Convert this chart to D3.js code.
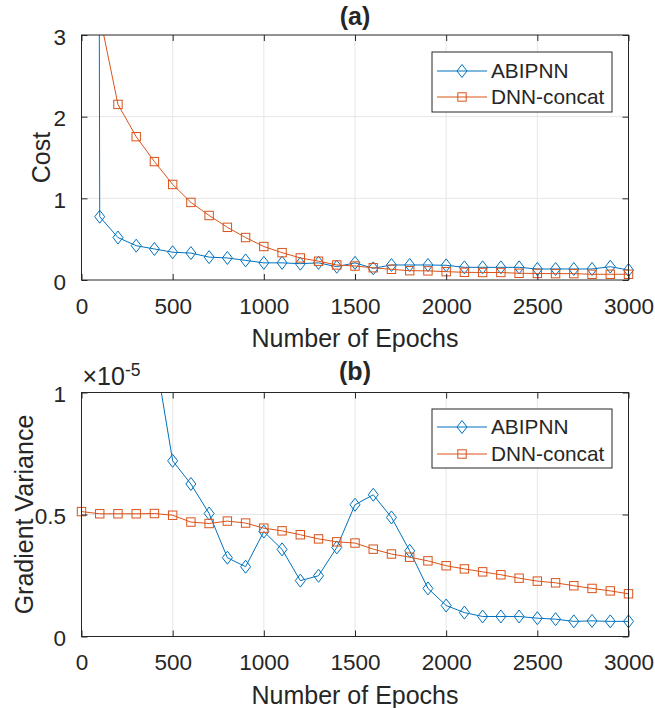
<!DOCTYPE html>
<html>
<head>
<meta charset="utf-8">
<script src="https://cdn.jsdelivr.net/npm/d3@7"></script>
<style>
  html, body { margin: 0; padding: 0; background: #fff; }
  svg { display: block; }
  text { font-family: "Liberation Sans", Arial, Helvetica, sans-serif; fill: #262626; }
</style>
</head>
<body>
<svg id="chart" width="655" height="708"></svg>
<script>
// ---- Data ----
const epochs = [0,100,200,300,400,500,600,700,800,900,1000,1100,1200,1300,1400,1500,
                1600,1700,1800,1900,2000,2100,2200,2300,2400,2500,2600,2700,2800,2900,3000];

const seriesNames = ["ABIPNN", "DNN-concat"];

// (a) Cost
const costABIPNN = [100, 0.775, 0.52, 0.42, 0.38, 0.34, 0.33, 0.28, 0.27, 0.24, 0.21, 0.21, 0.20, 0.21,
                    0.163, 0.21, 0.143, 0.184, 0.184, 0.184, 0.18, 0.155, 0.155, 0.155, 0.155, 0.135,
                    0.135, 0.135, 0.135, 0.163, 0.122];
const costDNN = [5.0, 3.24, 2.15, 1.755, 1.45, 1.17, 0.95, 0.79, 0.645, 0.52, 0.41, 0.335, 0.27, 0.23,
                 0.184, 0.171, 0.15, 0.131, 0.114, 0.112, 0.102, 0.094, 0.092, 0.092, 0.082, 0.08,
                 0.078, 0.078, 0.07, 0.07, 0.07];

// (b) Gradient variance (units of 1e-5)
const gvABIPNN = [3.0, 2.5, 2.0, 1.6, 1.17, 0.72, 0.625, 0.504, 0.323, 0.286, 0.43, 0.357, 0.229, 0.249,
                  0.365, 0.54, 0.581, 0.488, 0.351, 0.197, 0.127, 0.098, 0.082, 0.082, 0.082, 0.075,
                  0.071, 0.062, 0.064, 0.062, 0.062];
const gvDNN = [0.512, 0.503, 0.503, 0.503, 0.504, 0.497, 0.469, 0.463, 0.473, 0.465, 0.444, 0.433,
               0.417, 0.40, 0.388, 0.383, 0.358, 0.338, 0.325, 0.31, 0.29, 0.277, 0.265, 0.253,
               0.239, 0.227, 0.22, 0.208, 0.197, 0.187, 0.175];

const xTicks = [0, 500, 1000, 1500, 2000, 2500, 3000];
const yTicksA = [0, 1, 2, 3];
const yTicksB = [0, 0.5, 1];

// ---- Styling ----
const BLUE = "#0072BD", ORANGE = "#D95319", AXIS = "#262626", GRID = "#e6e6e6";
const svg = d3.select("#chart");

function panel(opts) {
  const {left, right, top, bottom, yDomain, yTicks, series, title, titleY, ylabel, ylabelX, legendBox, expLabel, id} = opts;
  const x = d3.scaleLinear().domain([0, 3000]).range([left, right]);
  const y = d3.scaleLinear().domain(yDomain).range([bottom, top]);
  const g = svg.append("g");

  // grid
  g.selectAll(".gx").data(xTicks.slice(1, -1)).join("line")
    .attr("x1", d => x(d)).attr("x2", d => x(d)).attr("y1", top).attr("y2", bottom)
    .attr("stroke", GRID).attr("stroke-width", 1);
  g.selectAll(".gy").data(yTicks.slice(1, -1)).join("line")
    .attr("y1", d => y(d)).attr("y2", d => y(d)).attr("x1", left).attr("x2", right)
    .attr("stroke", GRID).attr("stroke-width", 1);

  // clip
  svg.append("clipPath").attr("id", "clip" + id).append("rect")
    .attr("x", left).attr("y", top).attr("width", right - left).attr("height", bottom - top);

  const line = d3.line().x((d, i) => x(epochs[i])).y(d => y(d));
  series.forEach(s => {
    g.append("path").datum(s.values).attr("d", line)
      .attr("clip-path", `url(#clip${id})`)
      .attr("fill", "none").attr("stroke", s.color).attr("stroke-width", 1);
    const pts = s.values.map((v, i) => ({x: epochs[i], v})).filter(p => p.v >= yDomain[0] && p.v <= yDomain[1]);
    drawMarkers(g, pts.map(p => [x(p.x), y(p.v)]), s.marker, s.color);
  });

  // axes box
  g.append("rect").attr("x", left).attr("y", top).attr("width", right - left).attr("height", bottom - top)
    .attr("fill", "none").attr("stroke", AXIS).attr("stroke-width", 1);

  // axes with d3 (inner ticks)
  const tl = 6;
  const xAxisB = d3.axisBottom(x).tickValues(xTicks).tickSize(-tl).tickPadding(tl + 12).tickFormat(d3.format("d"));
  const xAxisT = d3.axisTop(x).tickValues(xTicks).tickSize(-tl).tickFormat("");
  const yAxisL = d3.axisLeft(y).tickValues(yTicks).tickSize(-tl).tickPadding(tl + 9.5).tickFormat(d => d3.format("")(d));
  const yAxisR = d3.axisRight(y).tickValues(yTicks).tickSize(-tl).tickFormat("");
  [[xAxisB, `translate(0,${bottom})`], [xAxisT, `translate(0,${top})`],
   [yAxisL, `translate(${left},0)`], [yAxisR, `translate(${right},0)`]].forEach(([ax, tr], k) => {
    const a = g.append("g").attr("transform", tr).call(ax);
    a.select(".domain").remove();
    a.selectAll(".tick line").attr("stroke", AXIS).attr("stroke-width", 1);
    a.selectAll(".tick text").attr("fill", AXIS).style("font-size", "22.5px")
      .style("font-family", '"Liberation Sans", Arial, sans-serif');
    if (k === 2) a.selectAll(".tick text").attr("dy", "0.4em");
  });

  // x label
  g.append("text").attr("x", (left + right) / 2).attr("y", bottom + 67).attr("text-anchor", "middle")
    .style("font-size", "25px").text("Number of Epochs");
  // y label
  g.append("text").attr("transform", `translate(${ylabelX},${(top + bottom) / 2}) rotate(-90)`)
    .attr("text-anchor", "middle").style("font-size", "25px").text(ylabel);
  // title
  g.append("text").attr("x", (left + right) / 2).attr("y", titleY).attr("text-anchor", "middle")
    .style("font-size", "25px").style("font-weight", "bold").text(title);

  if (expLabel) {
    const t = g.append("text").attr("x", left + 1).attr("y", top - 7.5).style("font-size", "25px");
    t.append("tspan").text("×10");
    t.append("tspan").attr("dy", "-9").style("font-size", "17.5px").text("-5");
  }

  // legend
  const lb = legendBox;
  const lg = g.append("g");
  lg.append("rect").attr("x", lb.x).attr("y", lb.y).attr("width", lb.w).attr("height", lb.h)
    .attr("fill", "#fff").attr("stroke", AXIS).attr("stroke-width", 1);
  series.forEach((s, i) => {
    const yy = lb.y + lb.rows[i];
    lg.append("line").attr("x1", lb.x + 5).attr("x2", lb.x + 55).attr("y1", yy).attr("y2", yy)
      .attr("stroke", s.color).attr("stroke-width", 1);
    drawMarkers(lg, [[lb.x + 30, yy]], s.marker, s.color);
    lg.append("text").attr("x", lb.x + 59).attr("y", yy).attr("dy", "0.36em")
      .style("font-size", "20.8px").text(s.name);
  });
}

function drawMarkers(g, pts, type, color) {
  if (type === "diamond") {
    g.selectAll(null).data(pts).join("path")
      .attr("d", d => `M${d[0]},${d[1] - 6.5}L${d[0] + 5},${d[1]}L${d[0]},${d[1] + 6.5}L${d[0] - 5},${d[1]}Z`)
      .attr("fill", "none").attr("stroke", color).attr("stroke-width", 1);
  } else {
    g.selectAll(null).data(pts).join("rect")
      .attr("x", d => d[0] - 4.2).attr("y", d => d[1] - 4.2).attr("width", 8.4).attr("height", 8.4)
      .attr("fill", "none").attr("stroke", color).attr("stroke-width", 1);
  }
}

panel({
  id: "a", left: 81.5, right: 628.5, top: 35, bottom: 280,
  yDomain: [0, 3], yTicks: yTicksA,
  series: [
    {name: seriesNames[0], values: costABIPNN, color: BLUE, marker: "diamond"},
    {name: seriesNames[1], values: costDNN, color: ORANGE, marker: "square"}
  ],
  title: "(a)", titleY: 25, ylabel: "Cost", ylabelX: 50,
  legendBox: {x: 432, y: 52, w: 180, h: 60, rows: [19, 45]}
});

panel({
  id: "b", left: 81.5, right: 628.5, top: 392.5, bottom: 636.5,
  yDomain: [0, 1], yTicks: yTicksB,
  series: [
    {name: seriesNames[0], values: gvABIPNN, color: BLUE, marker: "diamond"},
    {name: seriesNames[1], values: gvDNN, color: ORANGE, marker: "square"}
  ],
  title: "(b)", titleY: 380, ylabel: "Gradient Variance", ylabelX: 33, expLabel: true,
  legendBox: {x: 432, y: 409, w: 180, h: 59, rows: [18, 45]}
});
</script>
</body>
</html>
